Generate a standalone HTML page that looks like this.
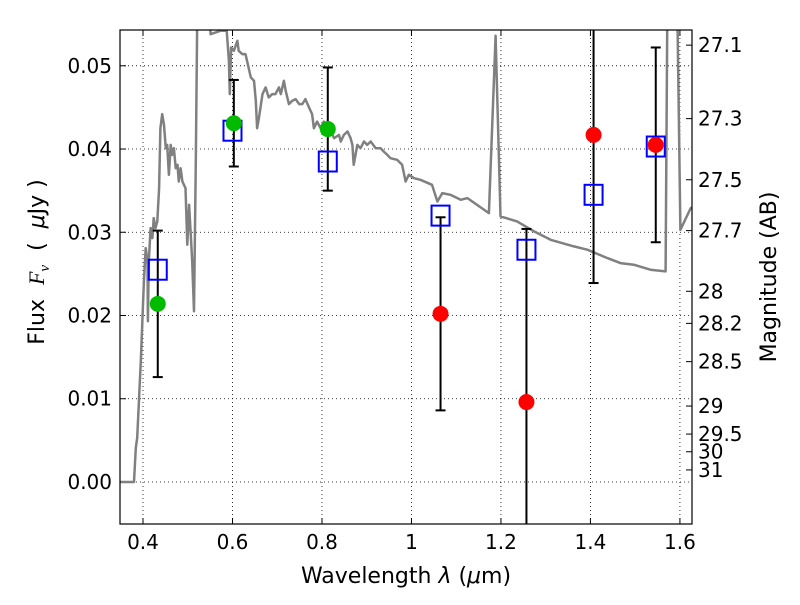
<!DOCTYPE html>
<html><head><meta charset="utf-8"><style>
body{margin:0;background:#fff;width:800px;height:600px;overflow:hidden}
svg text{font-family:"DejaVu Sans","Liberation Sans",sans-serif;fill:#000}
</style></head><body>
<svg id="chart" width="800" height="600" xmlns="http://www.w3.org/2000/svg"></svg>
<script>
const sedWave=[0.350,0.380,0.384,0.387,0.395,0.402,0.406,0.410,0.411,0.413,0.417,0.421,0.424,0.428,0.432,0.436,0.439,0.443,0.447,0.451,0.454,0.458,0.462,0.465,0.469,0.473,0.477,0.480,0.484,0.488,0.495,0.499,0.503,0.506,0.510,0.514,0.518,0.521,0.525,0.547,0.551,0.573,0.587,0.592,0.594,0.597,0.603,0.611,0.614,0.622,0.629,0.641,0.648,0.652,0.655,0.659,0.667,0.674,0.681,0.689,0.696,0.704,0.708,0.715,0.719,0.726,0.734,0.741,0.749,0.756,0.763,0.771,0.778,0.782,0.789,0.797,0.804,0.816,0.827,0.838,0.842,0.849,0.857,0.864,0.868,0.871,0.879,0.886,0.894,0.901,0.909,0.920,0.931,0.938,0.946,0.953,0.968,0.979,0.987,0.994,1.006,1.020,1.046,1.058,1.069,1.087,1.110,1.125,1.173,1.188,1.199,1.236,1.274,1.311,1.363,1.393,1.438,1.467,1.497,1.534,1.568,1.572,1.594,1.601,1.624,1.631];
const sedFlux=[0.0,0.0,0.0041,0.0053,0.0145,0.0241,0.0281,0.0265,0.0193,0.0265,0.0305,0.0293,0.0317,0.0305,0.0313,0.0353,0.0425,0.0442,0.0429,0.0401,0.0405,0.0369,0.0405,0.0393,0.0401,0.0377,0.0381,0.0361,0.0377,0.0361,0.0353,0.0285,0.0333,0.0305,0.0265,0.0205,0.0385,0.0542,0.058,0.058,0.0538,0.0542,0.0542,0.0506,0.0466,0.0522,0.0518,0.0530,0.0518,0.0514,0.0514,0.0486,0.0482,0.0458,0.0425,0.0437,0.0466,0.0474,0.0462,0.0466,0.0466,0.0474,0.0466,0.0482,0.0470,0.0454,0.0458,0.0460,0.0454,0.0454,0.0460,0.0450,0.0442,0.0425,0.0433,0.0425,0.0433,0.0425,0.0413,0.0417,0.0409,0.0417,0.0421,0.0413,0.0405,0.0381,0.0405,0.0401,0.0409,0.0405,0.0409,0.0401,0.0401,0.0397,0.0393,0.0389,0.0387,0.0381,0.0361,0.0369,0.0365,0.0363,0.0357,0.0337,0.0347,0.0345,0.0339,0.0341,0.0323,0.0536,0.0319,0.0313,0.0301,0.0291,0.0283,0.0279,0.0269,0.0263,0.0261,0.0255,0.0253,0.058,0.058,0.0303,0.0329,0.0331];
const modelWave=[0.433,0.600,0.813,1.065,1.257,1.407,1.546];
const modelFlux=[0.0255,0.0422,0.0385,0.0320,0.0279,0.0345,0.0403];
const obsWave=[0.433,0.603,0.813,1.065,1.257,1.407,1.546];
const obsFlux=[0.0214,0.0431,0.0424,0.0202,0.0096,0.0417,0.0405];
const obsErr=[0.0088,0.0052,0.0074,0.0116,0.0208,0.0178,0.0117];
const obsColor=['#00bb00','#00bb00','#00bb00','#ff0000','#ff0000','#ff0000','#ff0000'];
const xTicks=[0.4,0.6,0.8,1.0,1.2,1.4,1.6];
const xTickLabels=['0.4','0.6','0.8','1','1.2','1.4','1.6'];
const yTicks=[0,0.01,0.02,0.03,0.04,0.05];
const yTickLabels=['0.00','0.01','0.02','0.03','0.04','0.05'];
const magTicks=[27.1,27.3,27.5,27.7,28,28.2,28.5,29,29.5,30,31];
const magLabels=['27.1','27.3','27.5','27.7','28','28.2','28.5','29','29.5','30','31'];

const L=120,R=692,T=30,B=524;
const X0=0.3486,X1=1.627,Y0=-0.00505,Y1=0.0543;
const sx=v=>L+(v-X0)/(X1-X0)*(R-L);
const sy=v=>B-(v-Y0)/(Y1-Y0)*(B-T);
const NS='http://www.w3.org/2000/svg';
const svg=document.getElementById('chart');
function mk(tag,attrs,parent){const e=document.createElementNS(NS,tag);for(const k in attrs)e.setAttribute(k,attrs[k]);(parent||svg).appendChild(e);return e;}

const defs=mk('defs',{});
const cp=mk('clipPath',{id:'clip'},defs);
mk('rect',{x:L,y:T,width:R-L,height:B-T},cp);

xTicks.forEach((t,i)=>{
  const g=mk('line',{x1:sx(t),x2:sx(t),y1:T,y2:B,stroke:'#000','stroke-width':0.8,'stroke-dasharray':'1,3'});
  
  
  const tk=mk('line',{x1:sx(t),x2:sx(t),y1:B,y2:B-6,stroke:'#000'});
  
  
  mk('line',{x1:sx(t),x2:sx(t),y1:T,y2:T+6,stroke:'#000'});
  const lb=mk('text',{x:sx(t),y:B+25,'text-anchor':'middle','font-size':20});
  lb.textContent=xTickLabels[i];
  
  
});
yTicks.forEach((t,i)=>{
  const g=mk('line',{x1:L,x2:R,y1:sy(t),y2:sy(t),stroke:'#000','stroke-width':0.8,'stroke-dasharray':'1,3'});
  
  
  const tk=mk('line',{x1:L,x2:L+6,y1:sy(t),y2:sy(t),stroke:'#000'});
  
  
  const lb=mk('text',{x:L-8,y:sy(t)+7,'text-anchor':'end','font-size':20});
  lb.textContent=yTickLabels[i];
  
  
});
magTicks.forEach((m,i)=>{
  const f=Math.pow(10,(23.9-m)/2.5);
  const y=sy(f);
  const tk=mk('line',{x1:R-6,x2:R,y1:y,y2:y,stroke:'#000'});
  
  
  const lb=mk('text',{x:R+6,y:y+7,'font-size':20});
  lb.textContent=magLabels[i];
  
  
});

const g=mk('g',{'clip-path':'url(#clip)'});
const d=sedWave.map((w,i)=>(i?'L':'M')+sx(w).toFixed(1)+','+sy(sedFlux[i]).toFixed(1)).join('');
const sed=mk('path',{d:d,fill:'none',stroke:'#808080','stroke-width':2.5,'stroke-linejoin':'round'},g);



obsWave.forEach((w,i)=>{
  const x=sx(w),y1=sy(obsFlux[i]+obsErr[i]),y2=sy(obsFlux[i]-obsErr[i]);
  const e=mk('g',{},g);
  
  
  mk('line',{x1:x,x2:x,y1:y1,y2:y2,stroke:'#000','stroke-width':2},e);
  mk('line',{x1:x-5,x2:x+5,y1:y1,y2:y1,stroke:'#000','stroke-width':2},e);
  mk('line',{x1:x-5,x2:x+5,y1:y2,y2:y2,stroke:'#000','stroke-width':2},e);
});
modelWave.forEach((w,i)=>{
  const s=mk('rect',{x:sx(w)-9,y:sy(modelFlux[i])-10,width:18,height:20,fill:'none',stroke:'#0000ff','stroke-width':2},g);
  
  
});
obsWave.forEach((w,i)=>{
  const c=mk('circle',{cx:sx(w),cy:sy(obsFlux[i]),r:8,fill:obsColor[i]},g);
  
  
});

const fr=mk('rect',{x:L,y:T,width:R-L,height:B-T,fill:'none',stroke:'#000','stroke-width':1.2});



const xl=mk('text',{x:(L+R)/2,y:583,'text-anchor':'middle','font-size':22,'xml:space':'preserve'});
xl.innerHTML='Wavelength  <tspan font-style="italic">λ</tspan> (<tspan font-style="italic">μ</tspan>m)';


const yl=mk('text',{x:0,y:0,'text-anchor':'middle','font-size':22,transform:'translate(44,262) rotate(-90)'});
yl.innerHTML='Flux\u00a0\u00a0<tspan font-family="Liberation Serif" font-style="italic">F<tspan font-size="15" dy="5">ν</tspan></tspan><tspan dy="-5">\u00a0\u00a0(\u00a0\u00a0</tspan><tspan font-style="italic">μ</tspan>Jy\u00a0)';


const yr=mk('text',{x:0,y:0,'text-anchor':'middle','font-size':22,transform:'translate(776,277) rotate(-90)'});
yr.textContent='Magnitude (AB)';


</script>
</body></html>
